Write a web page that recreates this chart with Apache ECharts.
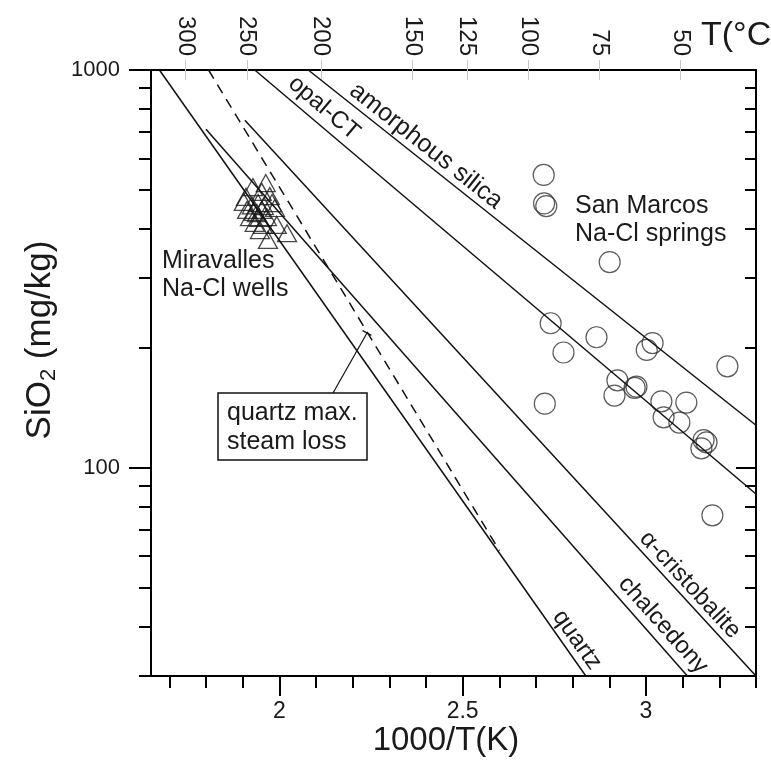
<!DOCTYPE html>
<html><head><meta charset="utf-8">
<script src="https://cdn.jsdelivr.net/npm/echarts@6/dist/echarts.min.js"></script>
<style>html,body{margin:0;padding:0;background:#fff}#c{width:771px;height:774px}</style>
</head><body><div id="c"></div>
<script>
// ---- tick definitions ----
const xMajorTicks = [2, 2.5, 3];
const xMinorTicks = [1.7, 1.8, 1.9, 2.1, 2.2, 2.3, 2.4, 2.6, 2.7, 2.8, 2.9, 3.1, 3.2, 3.3];
const yMajorTicks = [100, 1000];
const yMinorTicks = [30, 40, 50, 60, 70, 80, 90, 200, 300, 400, 500, 600, 700, 800, 900];
const topTempLabels = [300, 250, 200, 150, 125, 100, 75, 50];

// ---- solubility curves (end points) ----
const quartzLine = [[1.673, 1000], [2.836, 30]];
const steamLossLine = [[1.807, 1000], [2.60, 62]];
const chalcedonyLine = [[1.80, 710], [3.113, 30]];
const cristobaliteLine = [[1.906, 748], [3.30, 30]];
const opalCTLine = [[1.933, 1000], [3.30, 86]];
const amorphousLine = [[2.079, 1000], [3.30, 128]];

// ---- samples ----
const miravallesWells = [
  [1.963, 520], [1.928, 508], [1.952, 494], [1.909, 480], [1.942, 463], [1.980, 463],
  [1.912, 445], [1.939, 437], [1.966, 427], [1.988, 450], [1.920, 427], [1.933, 413],
  [1.955, 408], [1.993, 408], [2.021, 389], [1.969, 374], [1.947, 396], [1.925, 457],
  [1.903, 466], [1.952, 445], [1.974, 482], [1.945, 425], [1.958, 455], [1.930, 440]
];
const sanMarcosSprings = [
  [2.721, 545], [2.722, 462], [2.728, 455], [2.901, 329], [2.740, 231], [2.865, 213],
  [2.775, 195], [3.018, 206], [3.002, 198], [3.222, 180], [2.922, 166], [2.914, 152],
  [2.974, 160], [2.969, 159], [2.724, 145], [3.042, 147], [3.110, 146], [3.048, 134],
  [3.091, 130], [3.157, 117.5], [3.165, 116], [3.151, 112], [3.181, 76]
];

const FONT = "'Liberation Sans', Arial, Helvetica, sans-serif";
const TXT = '#1a1a1a';
const topTickPositions = topTempLabels.map(t => 1000 / (t + 273.15));

const chart = echarts.init(document.getElementById('c'), null, {renderer: 'canvas'});

function lineSeries(data, dashed) {
  return {
    type: 'line', data: data, symbol: 'none', animation: false, silent: true,
    xAxisIndex: 0, yAxisIndex: 0,
    lineStyle: {color: '#111', width: 1.5, type: dashed ? [10, 7] : 'solid'}
  };
}
const XMIN = 1.65, XMAX = 3.3, YMIN = 30, YMAX = 1000;
const blackLine = {show: true, onZero: false, lineStyle: {color: '#000', width: 2}};
const noLine = {show: false};

const option = {
  backgroundColor: '#fff',
  animation: false,
  grid: {left: 151, top: 70, width: 605, height: 606, containLabel: false},
  xAxis: [
    {type: 'value', position: 'bottom', min: XMIN, max: XMAX, axisLine: blackLine,
     axisTick: {show: true, customValues: xMajorTicks, length: 20, lineStyle: {color: '#000', width: 2}},
     axisLabel: {customValues: xMajorTicks, margin: 24, fontSize: 23, color: TXT, fontFamily: FONT},
     splitLine: {show: false}},
    {type: 'value', position: 'bottom', min: XMIN, max: XMAX, axisLine: noLine,
     axisTick: {show: true, customValues: xMinorTicks, length: 12, lineStyle: {color: '#000', width: 2}},
     axisLabel: {show: false}, splitLine: {show: false}},
    {type: 'value', position: 'top', min: XMIN, max: XMAX, axisLine: blackLine,
     axisTick: {show: true, customValues: topTickPositions, length: 10, lineStyle: {color: '#c8c8c8', width: 1}},
     axisLabel: {customValues: topTickPositions, rotate: 90, margin: 14, fontSize: 24, color: TXT, fontFamily: FONT,
                 formatter: v => String(Math.round(1000 / v - 273.15))},
     splitLine: {show: false}},
    {type: 'value', position: 'top', min: XMIN, max: XMAX, axisLine: noLine,
     axisTick: {show: true, inside: true, customValues: topTickPositions, length: 10, lineStyle: {color: '#c8c8c8', width: 1}},
     axisLabel: {show: false}, splitLine: {show: false}}
  ],
  yAxis: [
    {type: 'log', logBase: 10, position: 'left', min: YMIN, max: YMAX, axisLine: blackLine,
     axisTick: {show: true, customValues: yMajorTicks, length: 22, lineStyle: {color: '#000', width: 2}},
     axisLabel: {customValues: yMajorTicks, margin: 31, fontSize: 22, color: TXT, fontFamily: FONT,
                 formatter: v => String(Math.round(v))},
     splitLine: {show: false}},
    {type: 'log', logBase: 10, position: 'left', min: YMIN, max: YMAX, axisLine: noLine,
     axisTick: {show: true, customValues: yMinorTicks, length: 12, lineStyle: {color: '#000', width: 2}},
     axisLabel: {show: false}, splitLine: {show: false}},
    {type: 'log', logBase: 10, position: 'right', min: YMIN, max: YMAX, axisLine: blackLine,
     axisTick: {show: true, inside: true, customValues: yMajorTicks, length: 20, lineStyle: {color: '#000', width: 2}},
     axisLabel: {show: false}, splitLine: {show: false}},
    {type: 'log', logBase: 10, position: 'right', min: YMIN, max: YMAX, axisLine: noLine,
     axisTick: {show: true, inside: true, customValues: yMinorTicks, length: 11, lineStyle: {color: '#000', width: 2}},
     axisLabel: {show: false}, splitLine: {show: false}}
  ],
  series: [
    lineSeries(quartzLine, false),
    lineSeries(steamLossLine, true),
    lineSeries(chalcedonyLine, false),
    lineSeries(cristobaliteLine, false),
    lineSeries(opalCTLine, false),
    lineSeries(amorphousLine, false),
    {type: 'scatter', data: miravallesWells, xAxisIndex: 0, yAxisIndex: 0, symbol: 'triangle', symbolSize: [19, 17],
     itemStyle: {color: 'rgba(0,0,0,0)', borderColor: '#1a1a1a', borderWidth: 1.3}, silent: true},
    {type: 'scatter', data: sanMarcosSprings, xAxisIndex: 0, yAxisIndex: 0, symbol: 'circle', symbolSize: 21,
     itemStyle: {color: 'rgba(0,0,0,0)', borderColor: '#333', borderWidth: 1.2}, silent: true}
  ],
  graphic: []
};
chart.setOption(option);

const deg = Math.PI / 180;
function t(text, x, y, rot, size, align) {
  return {type: 'text', x: x, y: y, rotation: (rot || 0) * deg, silent: true,
          style: {text: text, font: (size || 25) + 'px ' + FONT, fill: TXT,
                  align: align || 'center', verticalAlign: 'middle'}};
}
chart.setOption({graphic: [
  t('T(°C)', 701, 36, 0, 34, 'left'),
  t('1000/T(K)', 446, 741, 0, 33),
  {type: 'text', x: 40, y: 340, rotation: 90 * deg, silent: true,
   style: {text: '{a|SiO}{s|2}{a| (mg/kg)}', align: 'center', verticalAlign: 'middle',
           rich: {a: {font: '35px ' + FONT, fill: TXT, lineHeight: 40},
                  s: {font: '22px ' + FONT, fill: TXT, lineHeight: 23, verticalAlign: 'bottom'}}}},
  t('Miravalles', 162, 261, 0, 25, 'left'),
  t('Na-Cl wells', 162, 289, 0, 25, 'left'),
  t('San Marcos', 575, 206, 0, 25, 'left'),
  t('Na-Cl springs', 575, 234, 0, 25, 'left'),
  t('amorphous silica', 426, 146, -38.4, 25),
  t('opal-CT', 324, 108, -40.3, 24),
  t('α-cristobalite', 690, 585, -47.3, 24),
  t('chalcedony', 663, 625, -48.2, 24),
  t('quartz', 577, 640, -54.8, 24),
  {type: 'rect', shape: {x: 218, y: 393, width: 149, height: 67}, silent: true,
   style: {fill: '#fff', stroke: '#111', lineWidth: 1.5}},
  t('quartz max.', 227, 413, 0, 25, 'left'),
  t('steam loss', 227, 442, 0, 25, 'left'),
  {type: 'line', shape: {x1: 333, y1: 393, x2: 367, y2: 333}, silent: true,
   style: {stroke: '#111', lineWidth: 1.2}},
  {type: 'line', shape: {x1: 362.6, y1: 330.6, x2: 371.4, y2: 335.4}, silent: true,
   style: {stroke: '#111', lineWidth: 1.2}}
]});
</script>
</body></html>
